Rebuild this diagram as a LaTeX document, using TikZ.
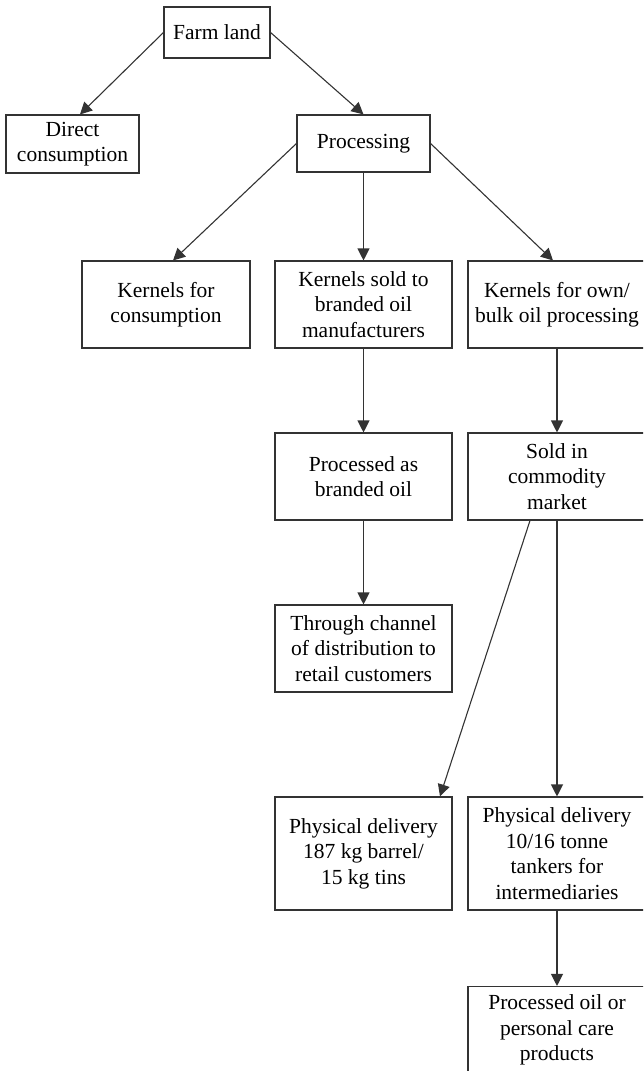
\documentclass[tikz,border=0pt]{standalone}
\usepackage{fontspec}
\setmainfont{Liberation Serif}
\usetikzlibrary{arrows.meta}
\definecolor{ink}{HTML}{333333}
\begin{document}
\begin{tikzpicture}[x=1pt,y=-1pt,
  box/.style={draw=ink,line width=1.1pt,align=center,inner sep=0pt,
    font=\fontsize{21.5}{25.5}\selectfont,text=black},
  flow/.style={draw=ink,line width=1.1pt,-{Triangle[length=12pt,width=12pt]}}]
\useasboundingbox (0,0) rectangle (643,1071);
\clip (0,0) rectangle (643,1071);
% top level
\node[box,minimum width=106pt,minimum height=51pt] (farm) at (217,32.5) {Farm land};
\node[box,minimum width=133pt,minimum height=58pt] (direct) at (72.5,144) {Direct\\consumption};
\node[box,minimum width=133pt,minimum height=57pt] (proc) at (363.5,143.5) {Processing};
% kernels row
\node[box,minimum width=168pt,minimum height=87pt] (kcons) at (166,304.5) {Kernels for\\consumption};
\node[box,minimum width=177pt,minimum height=87pt] (ksold) at (363.5,304.5) {Kernels sold to\\branded oil\\manufacturers};
\node[box,minimum width=178pt,minimum height=87pt] (kown) at (557,304.5) {Kernels for own/\\bulk oil processing};
% middle rows
\node[box,minimum width=177pt,minimum height=87pt] (pbrand) at (363.5,476.5) {Processed as\\branded oil};
\node[box,minimum width=178pt,minimum height=87pt] (sold) at (557,476.5) {Sold in\\commodity\\market};
\node[box,minimum width=177pt,minimum height=87pt] (chan) at (363.5,648.5) {Through channel\\of distribution to\\retail customers};
% deliveries
\node[box,minimum width=177pt,minimum height=113pt] (pd1) at (363.5,853.5) {Physical delivery\\187 kg barrel/\\15 kg tins};
\node[box,minimum width=178pt,minimum height=113pt] (pd2) at (557,853.5) {Physical delivery\\10/16 tonne\\tankers for\\intermediaries};
\node[box,minimum width=178pt,minimum height=87pt] (poil) at (557,1030) {Processed oil or\\personal care\\products};
% connectors
\draw[flow] (farm.west) -- ([xshift=7.5pt]direct.north);
\draw[flow] (farm.east) -- (proc.north);
\draw[flow] (proc.west) -- ([xshift=7pt]kcons.north);
\draw[flow] (proc.south) -- (ksold.north);
\draw[flow] (proc.east) -- ([xshift=-4pt]kown.north);
\draw[flow] (ksold.south) -- (pbrand.north);
\draw[flow] (kown.south) -- (sold.north);
\draw[flow] (pbrand.south) -- (chan.north);
\draw[flow] ([xshift=-27pt]sold.south) -- ([xshift=76.5pt]pd1.north);
\draw[flow] (sold.south) -- (pd2.north);
\draw[flow] (pd2.south) -- (poil.north);
\end{tikzpicture}
\end{document}
